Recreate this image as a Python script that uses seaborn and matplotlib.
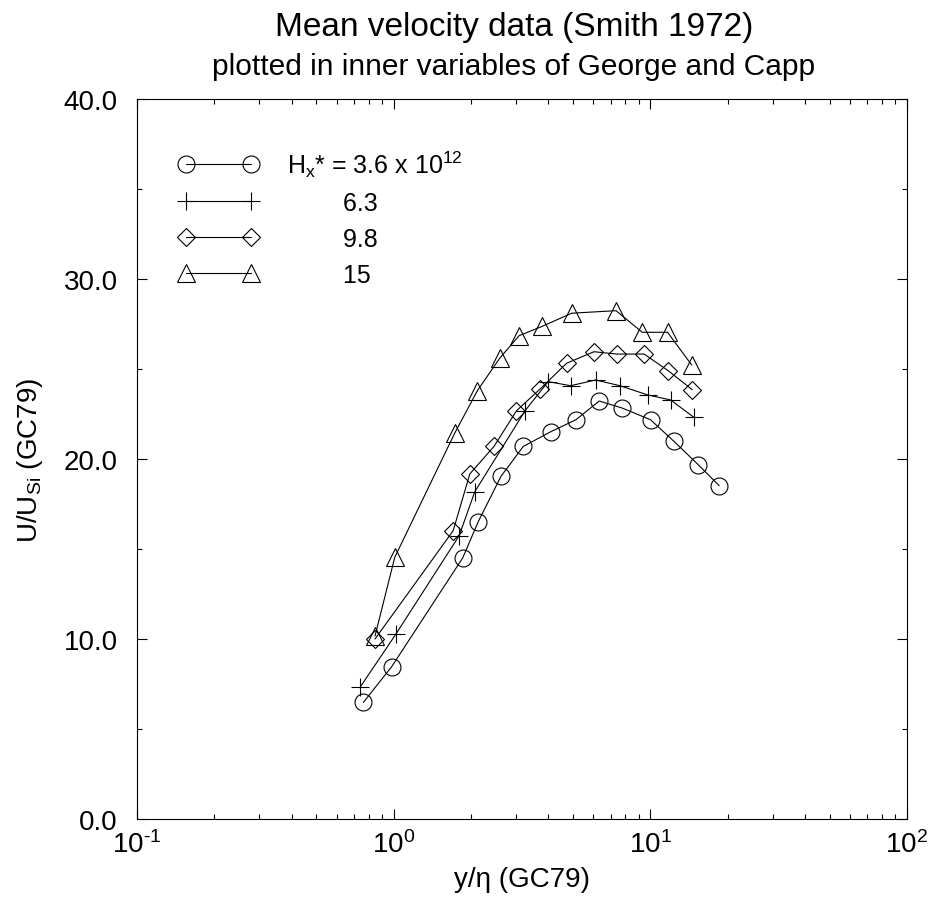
import matplotlib
matplotlib.use("Agg")
import matplotlib.pyplot as plt
import matplotlib.ticker as mticker
import seaborn as sns
import pandas as pd
import numpy as np

# ---- data ----
circ_x = [0.762, 0.982, 1.857, 2.136, 2.62, 3.20, 4.10, 5.13, 6.32, 7.77, 10.02, 12.36, 15.38, 18.54]
circ_y = [6.48, 8.46, 14.5, 16.52, 19.04, 20.7, 21.52, 22.18, 23.22, 22.83, 22.18, 20.98, 19.68, 18.52]
plus_x = [0.740, 1.021, 1.80, 2.07, 3.25, 4.00, 4.89, 6.12, 7.62, 9.76, 12.0, 14.8]
plus_y = [7.32, 10.28, 15.74, 18.18, 22.68, 24.3, 24.07, 24.39, 24.07, 23.56, 23.28, 22.31]
diam_x = [0.846, 1.706, 1.98, 2.46, 3.01, 3.72, 4.72, 6.03, 7.39, 9.46, 11.75, 14.56]
diam_y = [10.0, 16.02, 19.17, 20.7, 22.68, 23.89, 25.32, 25.96, 25.83, 25.83, 24.9, 23.85]
tri_x = [0.846, 1.01, 1.73, 2.12, 2.59, 3.08, 3.79, 4.94, 7.35, 9.30, 11.67, 14.5]
tri_y = [10.17, 14.54, 21.44, 23.8, 25.6, 26.85, 27.37, 28.1, 28.24, 27.04, 27.04, 25.22]

labels = [r"H$_\mathregular{x}$* = 3.6 x 10$^\mathregular{12}$",
          "        6.3", "        9.8", "        15"]

title = "Mean velocity data (Smith 1972)"
subtitle = "plotted in inner variables of George and Capp"
xlabel = "y/η (GC79)"
ylabel = r"U/U$_\mathregular{Si}$ (GC79)"

sns.set_theme(style="ticks")
plt.rcParams["font.family"] = ["Liberation Sans", "DejaVu Sans"]
plt.rcParams["mathtext.default"] = "regular"
plt.rcParams["mathtext.fontset"] = "custom"
plt.rcParams["mathtext.rm"] = "Liberation Sans"
plt.rcParams["mathtext.it"] = "Liberation Sans"
plt.rcParams["axes.unicode_minus"] = False
for k in ["text.color", "axes.labelcolor", "xtick.color", "ytick.color",
          "xtick.labelcolor", "ytick.labelcolor", "axes.edgecolor"]:
    plt.rcParams[k] = "black"

fig = plt.figure(figsize=(9.30, 9.03), dpi=100)
ax = fig.add_axes([137/930, 83/903, 770/930, 720/903])

series = [
    (circ_x, circ_y, "o", 12.2),
    (plus_x, plus_y, "+", 13.0),
    (diam_x, diam_y, "D", 9.2),
    (tri_x, tri_y, "^", 13.0),
]
for (xs, ys, mk, ms) in series:
    df = pd.DataFrame({"x": xs, "y": ys})
    sns.lineplot(data=df, x="x", y="y", ax=ax, color="black", linewidth=0.8,
                 marker=mk, markersize=ms, markerfacecolor="none",
                 markeredgecolor="black", markeredgewidth=0.8, sort=False,
                 estimator=None, legend=False)

ax.set_xscale("log")
ax.set_xlim(0.1, 100)
ax.set_ylim(0, 40)
ax.yaxis.set_major_locator(mticker.MultipleLocator(10))
ax.yaxis.set_minor_locator(mticker.MultipleLocator(5))
ax.yaxis.set_major_formatter(mticker.FormatStrFormatter("%.1f"))
ax.xaxis.set_major_locator(mticker.LogLocator(base=10))
ax.xaxis.set_major_formatter(mticker.FuncFormatter(
    lambda v, p: r"10$^{\text{%d}}$" % int(round(np.log10(v)))))

for s in ax.spines.values():
    s.set_linewidth(0.8)
    s.set_color("black")
ax.tick_params(which="both", direction="in", top=True, right=True, color="black",
               width=0.8, labelsize=20, labelcolor="black")
ax.tick_params(which="major", length=7)
ax.tick_params(which="minor", length=3.6)
ax.tick_params(axis="y", pad=14)
ax.tick_params(axis="x", pad=8)

ax.set_xlabel(xlabel, fontsize=20, labelpad=6)
ax.set_ylabel(ylabel, fontsize=20, labelpad=13)

leg = ax.legend(handles=ax.lines, labels=labels, loc="upper left",
                bbox_to_anchor=((178.7 - 137) / 770, 1 - 49 / 720),
                frameon=False, fontsize=18, numpoints=2, handlelength=3.2,
                handletextpad=1.12, labelspacing=0.48, borderpad=0,
                borderaxespad=0)

fig.text(514/930, 1 - 36/903, title, ha="center", va="baseline", fontsize=24)
fig.text(514/930, 1 - 75/903, subtitle, ha="center", va="baseline", fontsize=21.5)

fig.savefig("out.png", dpi=100)
